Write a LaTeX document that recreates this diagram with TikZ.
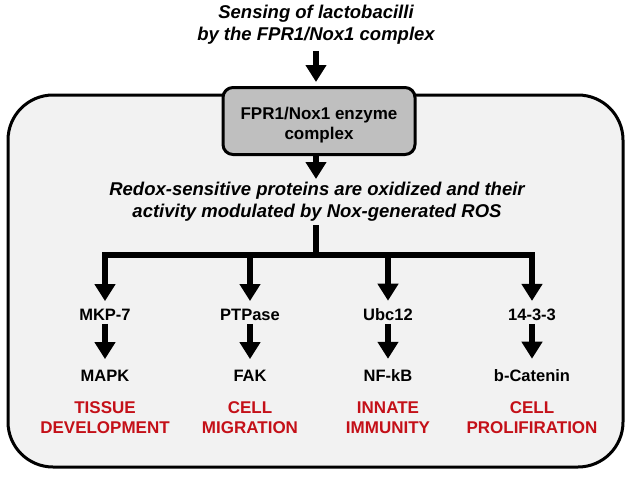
\documentclass[tikz,border=0pt]{standalone}
\usepackage{fontspec}
\setmainfont{Liberation Sans}
\usetikzlibrary{arrows.meta,positioning}
\definecolor{cellgray}{RGB}{242,242,242}
\definecolor{enzgray}{RGB}{191,191,191}
\definecolor{effred}{RGB}{196,16,24}

\tikzset{
  bigarrow/.style={line width=6.5pt, -{Triangle[width=20pt,length=17pt]}},
  bigline/.style={line width=6.5pt},
  prot/.style={font=\bfseries\fontsize{16.5}{19}\selectfont, inner sep=1pt},
  effect/.style={font=\bfseries\fontsize{17}{20}\selectfont, text=effred, align=center, inner sep=1pt},
  note/.style={font=\bfseries\itshape\fontsize{18.5}{22}\selectfont, align=center, inner sep=1pt}
}

\begin{document}
\begin{tikzpicture}[x=1pt,y=-1pt]
    %%%%% START %%%%%
    \useasboundingbox (0,0) rectangle (629,477);

    % cell
    \draw[line width=3pt, fill=cellgray, rounded corners=45pt] (8,95) rectangle (623,467);

    \node[note] (sense) at (316,25) {Sensing of lactobacilli\\by the FPR1/Nox1 complex};

    \node[draw, line width=3pt, fill=enzgray, rounded corners=10pt,
          minimum width=192pt, minimum height=67pt, align=center,
          text height=36pt, text depth=0pt,
          font=\bfseries\fontsize{17}{20}\selectfont] (enz) at (319,121) {FPR1/Nox1 enzyme\\complex};

    \node[note] (redox) at (317,202) {Redox-sensitive proteins are oxidized and their\\activity modulated by Nox-generated ROS};

    \draw[bigarrow, shorten <=5pt, shorten >=6pt] (sense.south -| 316,0) -- (316,88);
    \draw[bigarrow] (316,155) -- (316,179);

    % branches
    \coordinate (split) at (316,255);
    \draw[bigline] (316,225) -- (split);

    \node[prot] (mkp) at (105,315) {MKP-7};
    \node[prot] (ptp) at (250,315) {PTPase};
    \node[prot] (ubc) at (388,315) {Ubc12};
    \node[prot] (p1433) at (532,315) {14-3-3};

    \node[prot] (mapk) at (105,376) {MAPK};
    \node[prot] (fak) at (250,376) {FAK};
    \node[prot] (nfkb) at (388,376) {NF-kB};
    \node[prot] (bcat) at (532,376) {b-Catenin};

    \node[effect] (tissue) at (105,418) {TISSUE\\DEVELOPMENT};
    \node[effect] (migr) at (250,418) {CELL\\MIGRATION};
    \node[effect] (immun) at (388,418) {INNATE\\IMMUNITY};
    \node[effect] (prolif) at (532,418) {CELL\\PROLIFIRATION};

    \foreach \p in {mkp,ptp,ubc,p1433}
        \draw[bigarrow, shorten >=7pt] (split) -| (\p.north);

    \draw[bigarrow, shorten <=2pt, shorten >=10pt] (mkp) -- (mapk);
    \draw[bigarrow, shorten <=2pt, shorten >=10pt] (ptp) -- (fak);
    \draw[bigarrow, shorten <=2pt, shorten >=10pt] (ubc) -- (nfkb);
    \draw[bigarrow, shorten <=2pt, shorten >=10pt] (p1433) -- (bcat);
    %%%%% END %%%%%
\end{tikzpicture}
\end{document}
